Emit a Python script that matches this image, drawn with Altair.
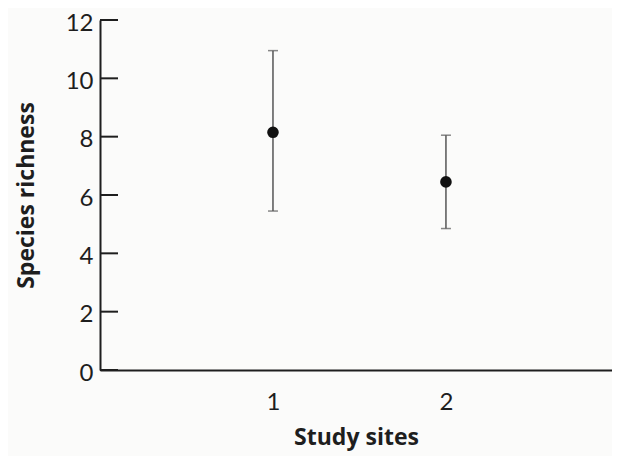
import altair as alt
import pandas as pd

sites = [1, 2]
means = [8.15, 6.45]
lower = [5.45, 4.85]
upper = [10.95, 8.05]
y_ticks = [0, 2, 4, 6, 8, 10, 12]
x_ticks = [1, 2]

df = pd.DataFrame({"site": sites, "mean": means, "lower": lower, "upper": upper})
tick_df = pd.DataFrame({"v": y_ticks})

FONT = "Lato"
TFONT = "Open Sans"
INK = "#1e1e1e"

x_scale = alt.Scale(domain=[0, 2.96], nice=False, zero=False)
y_scale = alt.Scale(domain=[0, 12], nice=False)

x_axis = alt.Axis(values=x_ticks, tickSize=0, labelPadding=20, labelFontSize=24,
                  labelFont=FONT, labelColor=INK, domainColor=INK, domainWidth=2,
                  grid=False, title="Study sites", titleFont=TFONT, titleFontSize=23,
                  titleFontWeight="bold", titleColor=INK, titlePadding=12, format="d")
y_axis = alt.Axis(values=y_ticks, tickSize=0, labelPadding=7, labelFontSize=24,
                  labelFont=FONT, labelColor=INK, labelOffset=3, domainColor=INK, domainWidth=2,
                  grid=False, title="Species richness", titleFont=TFONT, titleFontSize=23,
                  titleFontWeight="bold", titleColor=INK, titlePadding=27, format="d")

base = alt.Chart(df)

points = base.mark_point(filled=True, size=135, color="#111111", opacity=1).encode(
    x=alt.X("site:Q", scale=x_scale, axis=x_axis),
    y=alt.Y("mean:Q", scale=y_scale, axis=y_axis),
)

bars = base.mark_rule(color="#555555", strokeWidth=1.5).encode(
    x=alt.X("site:Q", scale=x_scale, axis=x_axis),
    y=alt.Y("lower:Q", scale=y_scale, axis=y_axis),
    y2="upper:Q",
)

cap_lo = base.mark_tick(orient="horizontal", size=10, thickness=1.5, color="#555555").encode(
    x=alt.X("site:Q", scale=x_scale, axis=x_axis),
    y=alt.Y("lower:Q", scale=y_scale, axis=y_axis),
)
cap_hi = base.mark_tick(orient="horizontal", size=10, thickness=1.5, color="#555555").encode(
    x=alt.X("site:Q", scale=x_scale, axis=x_axis),
    y=alt.Y("upper:Q", scale=y_scale, axis=y_axis),
)

ticks = alt.Chart(tick_df).mark_rule(color=INK, strokeWidth=2).encode(
    x=alt.value(0), x2=alt.value(18),
    y=alt.Y("v:Q", scale=y_scale, axis=y_axis),
)

chart = alt.layer(bars, cap_lo, cap_hi, points, ticks).properties(
    width=512, height=350,
    autosize=alt.AutoSizeParams(type="none"),
    padding={"left": 92, "top": 12, "right": 0, "bottom": 86},
    background="#fbfbfa",
).configure_view(stroke=None)

chart.save("out.html", embed_options={"renderer": "svg", "actions": False})
